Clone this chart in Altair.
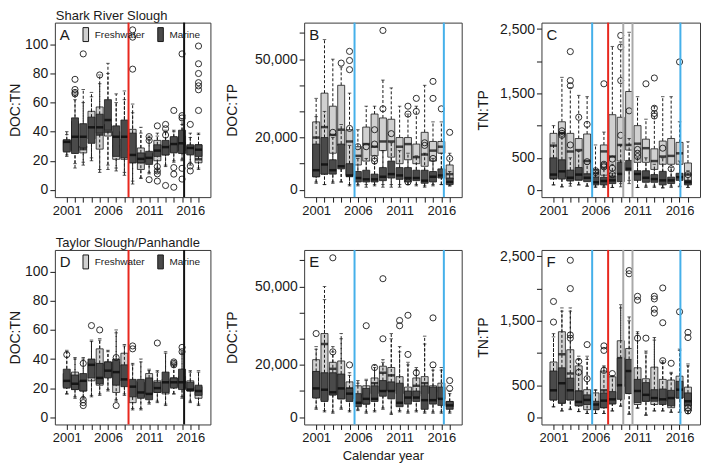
import altair as alt
import pandas as pd

YEARS = list(range(2001, 2018))
GROUPS = ["Freshwater", "Marine"]

# ---------------- Panel A: DOC:TN, Shark River Slough ----------------
A_FW = dict(
    lw=[24, 18, 19, 22, 14, 17, 15, 12, 6, 8, 12, 14, 17, 20, 21, 17, 15],
    q1=[27, 27, 25.4, 35, 28, 37, 21, 21, 18.6, 14, 19, 20, 24, 26, 27, 25, 18.6],
    med=[32, 38, 28, 45, 38, 40, 30, 27.6, 30, 19, 22, 26, 28, 30, 31, 28, 21],
    q3=[34, 47, 30, 54, 57, 45, 40, 35, 41.6, 28.8, 25, 34, 31, 36, 37, 30, 31],
    uw=[38, 62, 60, 64, 73, 80, 60, 62, 53, 43, 37, 37, 41, 40, 45, 36, 38],
)
A_MA = dict(
    lw=[23, 15, 17, 20, 12, 14, 13, 10, 4, 8, 11, 12, 16, 19, 20, 19, 14],
    q1=[26, 25, 29, 32, 39, 41, 23, 22, 18.6, 18.6, 17.5, 23, 24, 25.4, 25, 24, 23],
    med=[33, 36.5, 36.5, 43, 43, 48, 36.5, 36.5, 24, 21.3, 22, 27, 29.4, 31.5, 32, 28.8, 27.6],
    q3=[34.5, 49.5, 45.5, 50, 52, 62, 44, 48, 39, 25.4, 26.5, 31, 34, 36.6, 41, 31, 31],
    uw=[40, 66, 69, 67, 79, 87, 66, 68, 59, 39, 34, 39, 40, 41, 48, 39, 39],
)
A_OUT = {
    2002: [76, 69, 67, 66], 2003: [93.5], 2005: [79], 2009: [110, 105, 83],
    2011: [36.6, 34, 7], 2012: [44, 16, 13, 11, 6], 2013: [45, 42, 37.7, 3],
    2014: [54.6, 15.3, 10.8, 1.8], 2015: [93.5, 51, 49.4, 14.8, 7.4],
    2016: [45, 16.4, 13], 2017: [98.9, 86.7, 80, 73.7, 71.5, 68.8, 54.6],
}

# ---------------- Panel B: DOC:TP, Shark River Slough ----------------
B_FW = dict(
    lw=[3000, 2000, 3000, 3000, 2000, 2000, 2000, 2000, 2000, 2000, 2000, 2000, 2000, 1500, 2000, 2000, 1500],
    q1=[5000, 6000, 14000, 17000, 5500, 9500, 11000, 13000, 15000, 12500, 10000, 11500, 10000, 9000, 11000, 14000, 4000],
    med=[20000, 24000, 21000, 23000, 18500, 13000, 17500, 16500, 18500, 18500, 16500, 17500, 12500, 13500, 15000, 16500, 6000],
    q3=[26000, 37000, 32000, 40000, 23000, 16500, 24000, 29000, 27500, 27000, 20000, 20000, 17500, 22000, 18500, 18500, 9500],
    uw=[35000, 57500, 50000, 47000, 37000, 23000, 32000, 32000, 42000, 39000, 32000, 29000, 32000, 40000, 26000, 26000, 14000],
)
B_MA = dict(
    lw=[2500, 2000, 2500, 3000, 1500, 1500, 1000, 1500, 1000, 1000, 1000, 2000, 1500, 1000, 1500, 2000, 1500],
    q1=[5000, 6000, 6000, 8000, 5000, 3000, 3000, 3000, 3500, 4500, 4000, 3000, 3500, 2500, 3000, 4500, 2000],
    med=[7500, 9700, 7500, 9000, 5500, 4500, 4000, 4000, 5000, 6000, 5500, 4500, 4500, 3500, 5000, 5500, 3000],
    q3=[17500, 20000, 11500, 17500, 10000, 7000, 7500, 6000, 8500, 11000, 8500, 8500, 7500, 7500, 7000, 8000, 4500],
    uw=[28000, 30000, 20000, 25000, 17000, 12000, 12000, 10000, 15000, 18000, 15000, 14000, 13000, 14000, 12000, 14000, 7000],
)
B_OUT = {
    2003: [22000], 2004: [48500], 2005: [53000, 49500, 46000, 23500], 2006: [16500],
    2007: [16500], 2008: [23000, 17500, 12000, 11000], 2009: [61000, 31000],
    2010: [21500], 2012: [32000, 29000, 3000], 2013: [35000, 30000],
    2014: [18000, 17000], 2015: [41500, 35000, 12000], 2016: [31000], 2017: [22000, 12000],
}

# ---------------- Panel C: TN:TP, Shark River Slough ----------------
C_FW = dict(
    lw=[80, 50, 100, 80, 60, 60, 60, 40, 100, 150, 40, 60, 60, 40, 60, 60, 40],
    q1=[170, 200, 140, 150, 250, 200, 230, 250, 450, 620, 430, 430, 320, 400, 400, 400, 150],
    med=[690, 880, 600, 620, 450, 260, 600, 520, 700, 700, 720, 650, 450, 520, 530, 570, 240],
    q3=[880, 1060, 880, 800, 870, 320, 700, 1170, 1130, 1530, 1000, 790, 640, 760, 800, 740, 420],
    uw=[1000, 1750, 1590, 1470, 1450, 700, 900, 2230, 2300, 2450, 1450, 1100, 1300, 1450, 1450, 1060, 750],
)
C_MA = dict(
    lw=[80, 50, 60, 80, 60, 40, 40, 40, 50, 100, 40, 40, 40, 30, 40, 50, 40],
    q1=[180, 170, 150, 160, 130, 80, 80, 100, 130, 300, 150, 120, 120, 80, 100, 150, 80],
    med=[240, 290, 190, 240, 190, 120, 140, 150, 250, 330, 250, 190, 170, 150, 150, 200, 120],
    q3=[500, 470, 310, 350, 250, 200, 200, 220, 430, 460, 300, 300, 240, 290, 200, 260, 150],
    uw=[730, 880, 500, 600, 400, 300, 350, 400, 700, 800, 500, 500, 400, 500, 350, 450, 300],
)
C_OUT = {
    2002: [920, 880, 850], 2003: [2150, 1700, 1620, 700], 2004: [1130], 2005: [1020, 440],
    2006: [300, 270], 2007: [1650, 400, 380, 360], 2008: [480, 340, 240],
    2009: [2400, 2220, 1700, 850], 2010: [1230], 2011: [630, 570, 520], 2012: [1650],
    2013: [1740, 1270, 1190, 1150], 2014: [650], 2015: [330], 2016: [1990], 2017: [240],
}

# ---------------- Panel D: DOC:TN, Taylor Slough/Panhandle ----------------
D_FW = dict(
    lw=[16, 14, 14, 15, 16, 19, 12, 16, 6, 6, 10, 11, 9, 16, 14, 11, 9],
    q1=[21, 19, 18, 25, 22, 28, 17, 25, 10, 14, 16, 17, 16, 21, 20, 18, 13],
    med=[24, 24, 22, 30, 36, 33, 24, 35, 16, 18, 25, 21, 19, 24, 25, 20, 17],
    q3=[30, 31, 25, 38, 47, 38, 38, 44, 25, 24, 30, 25, 26, 27, 28, 25, 21],
    uw=[45, 40, 40, 52, 53, 45, 58, 49, 36, 38, 32, 31, 44, 36, 44, 31, 31],
)
D_MA = dict(
    lw=[16, 13, 13, 14, 15, 18, 11, 15, 5, 5, 9, 10, 8, 16, 13, 10, 8],
    q1=[20, 19, 18, 27, 23, 27, 22, 21, 14, 13, 12, 17, 17, 20, 19, 18, 15],
    med=[25, 23, 25, 36, 27, 32, 31, 26, 21, 17, 16, 20, 24, 24, 24, 19, 18],
    q3=[33, 29, 30, 40, 37, 38, 40, 36, 26, 26, 27, 24, 31, 27, 33, 24, 22],
    uw=[46, 41, 41, 53, 54, 46, 60, 50, 37, 40, 33, 32, 45, 37, 45, 32, 32],
)
D_OUT = {
    2001: [43], 2003: [37, 12, 10, 8], 2004: [63], 2005: [60], 2007: [41, 8],
    2009: [49, 47], 2012: [51], 2014: [38, 37, 36], 2015: [48, 45],
}

# ---------------- Panel E: DOC:TP, Taylor Slough/Panhandle ----------------
E_FW = dict(
    lw=[3500, 2500, 2000, 3500, 2500, 3000, 2000, 2500, 3500, 1500, 2500, 2000, 2500, 2000, 2000, 2000, 2000],
    q1=[7500, 6500, 8500, 7000, 7000, 5000, 5000, 9000, 10000, 10000, 9000, 6000, 8000, 9000, 6000, 7000, 4000],
    med=[17000, 28000, 18500, 16000, 11000, 8000, 9000, 13000, 17000, 16000, 12000, 9000, 12000, 13000, 10000, 10000, 5000],
    q3=[22000, 32000, 21000, 21500, 13500, 12000, 12000, 15000, 19500, 19000, 15500, 11500, 15000, 15500, 12000, 13000, 6000],
    uw=[26000, 45000, 25000, 30000, 16000, 13000, 14000, 19000, 21000, 30000, 25000, 20000, 18000, 28000, 18000, 18000, 9000],
)
E_MA = dict(
    lw=[3000, 2000, 1500, 3000, 2000, 2500, 1500, 2000, 3000, 1000, 2000, 1500, 2000, 1500, 1500, 1500, 1500],
    q1=[7300, 6000, 8500, 7000, 6000, 4000, 5000, 6000, 8000, 7000, 4000, 5000, 6000, 3000, 5000, 4500, 3000],
    med=[11000, 10500, 9500, 11000, 9000, 5500, 7000, 7000, 10000, 10000, 5500, 7500, 7500, 6500, 6500, 7000, 4500],
    q3=[17500, 17000, 17000, 16500, 11000, 9000, 11000, 12000, 14000, 13500, 13000, 10000, 10000, 12000, 11500, 11500, 6000],
    uw=[27000, 50000, 27000, 32000, 17000, 14000, 14500, 20000, 22000, 32000, 27000, 21000, 19000, 31000, 19000, 19000, 10000],
)
E_OUT = {
    2001: [32000], 2003: [61000, 25000], 2005: [20000], 2007: [35000], 2008: [19000],
    2009: [53000, 30000], 2011: [37000, 35000], 2012: [39000, 24000], 2013: [17000],
    2015: [38000, 20000], 2017: [14000, 11000],
}

# ---------------- Panel F: TN:TP, Taylor Slough/Panhandle ----------------
F_FW = dict(
    lw=[160, 100, 120, 90, 60, 60, 60, 100, 170, 50, 140, 40, 100, 100, 80, 80, 60],
    q1=[270, 220, 270, 180, 120, 120, 150, 210, 480, 370, 200, 250, 200, 250, 150, 300, 100],
    med=[430, 980, 680, 400, 300, 220, 420, 300, 920, 620, 450, 400, 350, 300, 350, 450, 280],
    q3=[860, 1330, 1050, 800, 430, 380, 720, 630, 1190, 1070, 770, 600, 780, 590, 580, 640, 470],
    uw=[1250, 1650, 1650, 900, 900, 420, 780, 640, 1700, 1500, 1300, 1000, 1200, 850, 680, 1040, 800],
)
F_MA = dict(
    lw=[170, 100, 130, 90, 60, 60, 60, 100, 180, 50, 150, 30, 100, 100, 80, 80, 60],
    q1=[270, 220, 270, 180, 200, 120, 150, 210, 280, 370, 230, 250, 250, 200, 180, 300, 180],
    med=[420, 530, 420, 240, 270, 200, 260, 280, 500, 720, 410, 350, 300, 280, 300, 430, 250],
    q3=[720, 770, 610, 410, 350, 250, 380, 400, 920, 900, 590, 540, 430, 440, 420, 560, 380],
    uw=[1300, 1700, 1700, 950, 950, 430, 800, 650, 1750, 1560, 1330, 1030, 1240, 880, 700, 1060, 830],
)
F_OUT = {
    2001: [1800, 1480], 2003: [2440, 2000, 1280, 1230], 2004: [870, 700], 2005: [1130, 600],
    2007: [1110, 1040, 730], 2008: [680], 2010: [2280, 2230], 2011: [1880, 1820, 1230],
    2012: [1230], 2013: [1880, 1840, 1680, 1620], 2014: [2010, 1470, 880], 2015: [840],
    2016: [1640], 2017: [1320, 1240, 150, 100],
}

# vertical reference lines (years)
RED_SRS_DOCTN = [2008.5]
BLACK_DOCTN = [2015.25]
BLUE_DOCTP = [2005.6, 2016.3]
BLUE_TNTP = [2005.6, 2016.1]
RED_TNTP = [2007.5]
GRAY_TNTP = [2009.3, 2010.4]

X_TICKS = YEARS
X_LABELED = [2001, 2006, 2011, 2016]
Y_TICKS_DOCTN = [0, 20, 40, 60, 80, 100]
Y_TICKS_DOCTP = [0, 10000, 20000, 30000, 40000, 50000, 60000]
Y_LAB_DOCTP = [0, 20000, 50000]
Y_TICKS_TNTP = [0, 500, 1000, 1500, 2000, 2500]
Y_LAB_TNTP = [0, 500, 1500, 2500]

FONT = "Liberation Sans"
INK = "#1a1a1a"
FILLS = ["#d0d0d0", "#4a4a4a"]
RED = "#e8281e"
BLUE = "#45b0ea"
GRAY = "#a9a9a9"
BLACK = "#111111"


def stats_df(s, group):
    d = pd.DataFrame({"year": YEARS, **s})
    d["group"] = group
    return d


def out_df(o):
    rows = [(y, v) for y, vals in o.items() for v in vals]
    return pd.DataFrame(rows, columns=["year", "value"])


def panel(fw, ma, out, ylab, ydom, yticks, yshow, yext, ypad, letter, rules, width,
          section=None, legend=False, xtitle=None):
    xscale = alt.Scale(domain=[2000.16, 2017.84], nice=False, zero=False)
    xaxis = alt.Axis(values=X_TICKS, format="d",
                     labelExpr=f"indexof({X_LABELED}, datum.value) >= 0 ? datum.label : ''",
                     grid=False, domain=False, tickSize=5, tickColor=INK,
                     labelFontSize=13, labelPadding=2, labelColor=INK, labelFlush=False,
                     titleFontSize=13, titlePadding=5, titleFontWeight="normal", titleColor=INK)
    yscale = alt.Scale(domain=ydom, nice=False, zero=False)
    yaxis = alt.Axis(values=yticks, format=",d",
                     labelExpr=f"indexof({yshow}, datum.value) >= 0 ? datum.label : ''",
                     grid=False, domain=False, tickSize=5, tickColor=INK,
                     labelFontSize=14, labelPadding=2, labelColor=INK,
                     minExtent=yext, maxExtent=yext, titlePadding=ypad,
                     titleFontSize=14, titleFontWeight="normal", titleColor=INK)

    def X():
        return alt.X("year:Q", scale=xscale, axis=xaxis, title=xtitle)

    def Y(f):
        return alt.Y(f"{f}:Q", scale=yscale, axis=yaxis, title=ylab)

    if legend:
        leg = alt.Legend(orient="none", legendX=26, legendY=7, direction="horizontal",
                         title=None, symbolType="M-0.93,-2.33H0.93V2.33H-0.93Z",
                         symbolSize=36, symbolStrokeColor=INK, symbolStrokeWidth=1,
                         symbolOpacity=1, labelFontSize=10, labelFont=FONT,
                         labelColor=INK, labelOffset=4, columnPadding=10, padding=0)
    else:
        leg = None
    color = alt.Color("group:N", scale=alt.Scale(domain=GROUPS, range=FILLS), legend=leg)

    layers = []
    for s, g in ((fw, GROUPS[0]), (ma, GROUPS[1])):
        base = alt.Chart(stats_df(s, g))
        layers.append(base.mark_rule(color=INK, strokeWidth=1, strokeDash=[3, 2]).encode(
            x=X(), y=Y("lw"), y2=alt.Y2("q1:Q")))
        layers.append(base.mark_rule(color=INK, strokeWidth=1, strokeDash=[3, 2]).encode(
            x=X(), y=Y("q3"), y2=alt.Y2("uw:Q")))
        layers.append(base.transform_fold(["lw", "uw"], as_=["k", "cap"]).mark_tick(
            orient="horizontal", size=3.5, thickness=1, color=INK).encode(x=X(), y=Y("cap")))
        layers.append(base.mark_bar(size=7, stroke=INK, strokeWidth=0.8, opacity=1).encode(
            x=X(), y=Y("q1"), y2=alt.Y2("q3:Q"), color=color))
        layers.append(base.mark_tick(orient="horizontal", size=7, thickness=2.5,
                                     color="#000000").encode(x=X(), y=Y("med")))

    layers.append(alt.Chart(out_df(out)).mark_point(
        shape="circle", filled=False, size=38, color=INK, strokeWidth=0.9, opacity=1
    ).encode(x=X(), y=Y("value")))

    for col, xs in rules:
        layers.append(alt.Chart(pd.DataFrame({"year": xs})).mark_rule(
            color=col, strokeWidth=2).encode(x=X()))

    layers.append(alt.Chart(pd.DataFrame({"t": [letter]})).mark_text(
        align="left", baseline="middle", fontSize=15, color=INK, font=FONT
    ).encode(x=alt.value(5), y=alt.value(12), text="t:N"))

    layers.append(alt.Chart(pd.DataFrame({"t": [section if section else "."]})).mark_text(
        align="left", baseline="alphabetic", fontSize=13, color=INK, font=FONT,
        opacity=1 if section else 0
    ).encode(x=alt.value(1), y=alt.value(-3), text="t:N"))

    return alt.layer(*layers).properties(width=width, height=175)


H_AD = dict(ydom=[-5, 115], yticks=Y_TICKS_DOCTN, yshow=Y_TICKS_DOCTN, yext=30, ypad=2, width=156)
H_BE = dict(ydom=[-2800, 64000], yticks=Y_TICKS_DOCTP, yshow=Y_LAB_DOCTP, yext=54, ypad=11, width=158)
H_CF = dict(ydom=[-110, 2600], yticks=Y_TICKS_TNTP, yshow=Y_LAB_TNTP, yext=50, ypad=1, width=159)

pA = panel(A_FW, A_MA, A_OUT, "DOC:TN", letter="A",
           rules=[(RED, RED_SRS_DOCTN), (BLACK, BLACK_DOCTN)],
           section="Shark River Slough", legend=True, **H_AD)
pB = panel(B_FW, B_MA, B_OUT, "DOC:TP", letter="B", rules=[(BLUE, BLUE_DOCTP)], **H_BE)
pC = panel(C_FW, C_MA, C_OUT, "TN:TP", letter="C",
           rules=[(BLUE, BLUE_TNTP), (RED, RED_TNTP), (GRAY, GRAY_TNTP)], **H_CF)
pD = panel(D_FW, D_MA, D_OUT, "DOC:TN", letter="D",
           rules=[(RED, RED_SRS_DOCTN), (BLACK, BLACK_DOCTN)],
           section="Taylor Slough/Panhandle", legend=True, **H_AD)
pE = panel(E_FW, E_MA, E_OUT, "DOC:TP", letter="E", rules=[(BLUE, BLUE_DOCTP)],
           xtitle="Calendar year", **H_BE)
pF = panel(F_FW, F_MA, F_OUT, "TN:TP", letter="F",
           rules=[(BLUE, BLUE_TNTP), (RED, RED_TNTP), (GRAY, GRAY_TNTP)], **H_CF)

row1 = alt.hconcat(pA, pB, pC, spacing=13).resolve_scale(color="independent").resolve_legend(color="independent")
row2 = alt.hconcat(pD, pE, pF, spacing=13).resolve_scale(color="independent").resolve_legend(color="independent")

chart = (
    alt.vconcat(row1, row2, spacing=18)
    .resolve_scale(color="independent")
    .resolve_legend(color="independent")
    .properties(padding=0)
    .configure_view(stroke="#3a3a3a", strokeWidth=1)
    .configure_axis(labelFont=FONT, titleFont=FONT)
    .configure_text(font=FONT)
    .configure_legend(labelFont=FONT)
)

chart.save("out.html", embed_options={"renderer": "svg", "actions": False})
